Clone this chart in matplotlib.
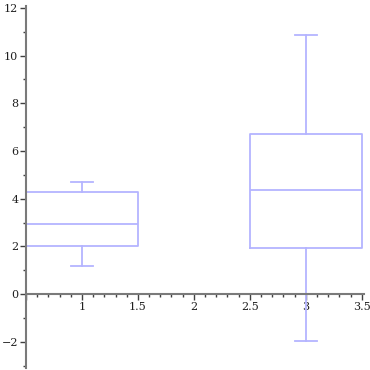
import matplotlib.pyplot as plt
from matplotlib.ticker import MultipleLocator, FuncFormatter

# box statistics
positions = [1, 3]
lower_whisker = [1.16, -1.97]
q1 = [2.0, 1.93]
median = [2.94, 4.36]
q3 = [4.27, 6.73]
upper_whisker = [4.70, 10.88]

box_color = '#b4b4ff'
axis_color = '#7a7a7a'

plt.rcParams['font.family'] = ['DejaVu Serif']
plt.rcParams['font.size'] = 8

fig = plt.figure(figsize=(3.7, 3.7), dpi=100)
ax = fig.add_axes([26 / 370, 2.1 / 370, (364 - 26) / 370, (367.9 - 5.6) / 370])

stats = []
for i in range(len(positions)):
    stats.append({'whislo': lower_whisker[i], 'q1': q1[i], 'med': median[i],
                  'q3': q3[i], 'whishi': upper_whisker[i], 'fliers': []})

line = dict(color=box_color, linewidth=1.3)
ax.bxp(stats, positions=positions, widths=1.0, capwidths=0.2,
       showfliers=False, boxprops=line, medianprops=line,
       whiskerprops=line, capprops=line)

ax.set_xlim(0.5, 3.52)
ax.set_ylim(-3.1, 12.1)

for s in ['top', 'right']:
    ax.spines[s].set_visible(False)
ax.spines['bottom'].set_position(('data', 0))
ax.spines['left'].set_position(('data', 0.5))
for s in ['bottom', 'left']:
    ax.spines[s].set_color(axis_color)
    ax.spines[s].set_linewidth(1.5)

ax.xaxis.set_major_locator(MultipleLocator(0.5))
ax.xaxis.set_minor_locator(MultipleLocator(0.1))
ax.yaxis.set_major_locator(MultipleLocator(2))
ax.yaxis.set_minor_locator(MultipleLocator(1))

def xfmt(v, pos):
    if abs(v - 0.5) < 1e-6:
        return ''
    return ('%g' % v)

ax.xaxis.set_major_formatter(FuncFormatter(xfmt))
ax.yaxis.set_major_formatter(FuncFormatter(lambda v, p: ('%g' % v).replace('-', '\u2212')))

ax.tick_params(axis='both', which='major', length=4, width=1, color='#404040',
               labelcolor='#202020', pad=1.5)
ax.tick_params(axis='both', which='minor', length=2, width=1, color='#404040')
ax.tick_params(axis='x', which='both', direction='out')

fig.savefig('out.png', dpi=100)
